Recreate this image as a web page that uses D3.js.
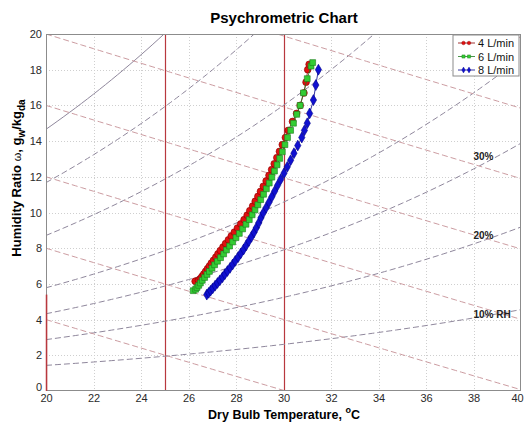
<!DOCTYPE html>
<html>
<head>
<meta charset="utf-8">
<script src="https://cdn.jsdelivr.net/npm/d3@7"></script>
<style>
body { margin: 0; background: #fff; font-family: "Liberation Sans", Arial, sans-serif; }
</style>
</head>
<body>
<script>
// axis ticks
var xTicks = [20, 22, 24, 26, 28, 30, 32, 34, 36, 38, 40];
var yTicks = [0, 2, 4, 6, 8, 10, 12, 14, 16, 18, 20];

// psychrometric guide lines
var rhLevels = [0.1, 0.2, 0.3, 0.4, 0.6, 0.8];       // dashed RH curves
var wetBulbStarts = [4, 8, 12, 16, 20, 24, 28];        // w (g/kg) at 20 C for constant enthalpy lines
var dryBulbTemps = [20, 25, 30];
var dryBulbTops = [5.4, 20, 20];
var rhLabels = ["30%", "20%", "10% RH"];
var rhLabelX = [38, 38, 38];
var rhLabelY = [12.95, 8.5, 4.1];

// series
var seriesNames = ["4 L/min", "6 L/min", "8 L/min"];

var t4 = [26.28, 26.42, 26.5, 26.57, 26.64, 26.72, 26.8, 26.88, 26.96, 27.05, 27.15, 27.24, 27.34, 27.45, 27.56,
  27.68, 27.8, 27.93, 28.06, 28.2, 28.34, 28.47, 28.58, 28.7, 28.81, 28.92, 29.03, 29.15, 29.27, 29.39, 29.5,
  29.61, 29.72, 29.83, 29.95, 30.08, 30.2, 30.38, 30.55, 30.7, 30.86, 30.95, 31.02, 31.08];
var w4 = [6.15, 6.2, 6.3, 6.42, 6.55, 6.7, 6.85, 7.0, 7.16, 7.32, 7.5, 7.68, 7.87, 8.06, 8.26,
  8.47, 8.68, 8.9, 9.13, 9.36, 9.6, 9.85, 10.1, 10.36, 10.63, 10.9, 11.18, 11.47, 11.77, 12.08, 12.4,
  12.73, 13.07, 13.42, 13.8, 14.2, 14.6, 15.1, 15.55, 16.0, 16.7, 17.3, 18.0, 18.3];

var t6 = [26.2, 26.3, 26.36, 26.43, 26.5, 26.58, 26.68, 26.78, 26.88, 26.99, 27.1, 27.22, 27.35, 27.48, 27.6,
  27.73, 27.86, 28.0, 28.14, 28.28, 28.42, 28.56, 28.68, 28.8, 28.92, 29.04, 29.16, 29.28, 29.4, 29.51, 29.62,
  29.73, 29.84, 29.95, 30.06, 30.17, 30.3, 30.42, 30.56, 30.7, 30.84, 31.0, 31.16, 31.23];
var w6 = [5.62, 5.7, 5.8, 5.92, 6.05, 6.2, 6.36, 6.53, 6.7, 6.88, 7.07, 7.27, 7.47, 7.68, 7.9,
  8.12, 8.35, 8.59, 8.83, 9.08, 9.34, 9.6, 9.87, 10.15, 10.43, 10.72, 11.02, 11.33, 11.65, 11.98, 12.32,
  12.67, 13.03, 13.4, 13.8, 14.2, 14.6, 15.0, 15.5, 16.0, 16.7, 17.5, 18.2, 18.4];

var t8 = [26.77, 26.85, 26.93, 27.02, 27.12, 27.22, 27.32, 27.43, 27.53, 27.64, 27.75, 27.86, 27.97, 28.09, 28.2,
  28.32, 28.43, 28.54, 28.65, 28.76, 28.86, 28.96, 29.05, 29.15, 29.27, 29.39, 29.51, 29.63, 29.75, 29.88, 30.02,
  30.16, 30.3, 30.44, 30.6, 30.77, 30.88, 31.0, 31.1, 31.26, 31.36, 31.47];
var w8 = [5.4, 5.5, 5.62, 5.75, 5.9, 6.05, 6.2, 6.37, 6.54, 6.72, 6.9, 7.09, 7.29, 7.5, 7.71,
  7.93, 8.16, 8.4, 8.64, 8.89, 9.15, 9.42, 9.7, 9.98, 10.27, 10.57, 10.88, 11.2, 11.52, 11.85, 12.2,
  12.56, 12.93, 13.32, 13.75, 14.2, 14.6, 15.0, 15.55, 16.3, 17.14, 18.0];

var W = 526, H = 423;
var m = {left: 46, top: 34, right: 5, bottom: 32};
var pw = W - m.left - m.right, ph = H - m.top - m.bottom;

var x = d3.scaleLinear().domain([20, 40]).range([0, pw]);
var y = d3.scaleLinear().domain([0, 20]).range([ph, 0]);

var svg = d3.select("body").append("svg").attr("width", W).attr("height", H);
svg.append("defs").append("clipPath").attr("id", "clip")
  .append("rect").attr("width", pw).attr("height", ph);

var g = svg.append("g").attr("transform", "translate(" + m.left + "," + m.top + ")");

// grid
g.selectAll(".gx").data(xTicks.slice(1, -1)).enter().append("line")
  .attr("x1", function(d) { return Math.round(x(d)) + 0.5; }).attr("x2", function(d) { return Math.round(x(d)) + 0.5; })
  .attr("y1", 0).attr("y2", ph)
  .attr("stroke", "#cfcfcf").attr("stroke-dasharray", "1,2");
g.selectAll(".gy").data(yTicks.slice(1, -1)).enter().append("line")
  .attr("y1", function(d) { return Math.round(y(d)) + 0.5; }).attr("y2", function(d) { return Math.round(y(d)) + 0.5; })
  .attr("x1", 0).attr("x2", pw)
  .attr("stroke", "#cfcfcf").attr("stroke-dasharray", "1,2");

// psychrometrics
function psat(T) { return 0.61094 * Math.exp(17.625 * T / (T + 243.04)); }
function wRH(T, rh) { var p = rh * psat(T); return 622 * p / (101.325 - p); }
var temps = d3.range(20, 40.01, 0.25);
var guide = g.append("g").attr("clip-path", "url(#clip)");
var line = d3.line().x(function(d) { return x(d[0]); }).y(function(d) { return y(d[1]); });

dryBulbTemps.forEach(function(T, i) {
  guide.append("line")
    .attr("x1", Math.round(x(T)) + 0.5).attr("x2", Math.round(x(T)) + 0.5)
    .attr("y1", y(0)).attr("y2", y(dryBulbTops[i]))
    .attr("stroke", "#b8383e").attr("stroke-width", 1.2);
});

rhLevels.forEach(function(rh) {
  guide.append("path")
    .attr("d", line(temps.map(function(T) { return [T, wRH(T, rh)]; })))
    .attr("fill", "none").attr("stroke", "#8f879c").attr("stroke-width", 1)
    .attr("stroke-dasharray", "6,3");
});
guide.append("path")
  .attr("d", line(temps.map(function(T) { return [T, wRH(T, 1)]; })))
  .attr("fill", "none").attr("stroke", "#8f879c").attr("stroke-width", 1);

wetBulbStarts.forEach(function(w0) {
  var h = 1.006 * 20 + w0 / 1000 * (2501 + 1.86 * 20);
  guide.append("path")
    .attr("d", line(temps.map(function(T) { return [T, (h - 1.006 * T) / (2501 + 1.86 * T) * 1000]; })))
    .attr("fill", "none").attr("stroke", "#cc9ca1").attr("stroke-width", 1)
    .attr("stroke-dasharray", "6,3");
});

// axes
var xAxis = d3.axisBottom(x).tickValues(xTicks).tickSize(0).tickPadding(3);
var yAxis = d3.axisLeft(y).tickValues(yTicks).tickSize(0).tickPadding(4);
var gx = g.append("g").attr("transform", "translate(0," + ph + ")").call(xAxis);
var gy = g.append("g").call(yAxis);
[gx, gy].forEach(function(a) {
  a.select(".domain").remove();
  a.selectAll("text").attr("font-size", 11).attr("fill", "#2a2a2a")
    .attr("font-family", "'Liberation Sans', Arial, sans-serif");
});
gx.selectAll("text").filter(function(d) { return d === 40; }).attr("dx", -4);
gy.selectAll("text").filter(function(d) { return d === 0; }).attr("dy", "-0.05em");
g.append("rect").attr("x", 0.5).attr("y", 0.5).attr("width", pw - 1).attr("height", ph - 1)
  .attr("fill", "none").attr("stroke", "#8c8c8c").attr("stroke-width", 1);
// red dry bulb line on top of the left frame
g.append("line").attr("x1", 0.5).attr("x2", 0.5).attr("y1", y(0)).attr("y2", y(dryBulbTops[0]))
  .attr("stroke", "#b8383e").attr("stroke-width", 1.5);

// RH labels
g.selectAll(".rhl").data(rhLabels).enter().append("text")
  .attr("x", function(d, i) { return x(rhLabelX[i]); })
  .attr("y", function(d, i) { return y(rhLabelY[i]); })
  .attr("font-size", 10).attr("font-weight", "bold").attr("fill", "#222")
  .text(function(d) { return d; });

// series
var series = [
  {t: t4, w: w4, fill: "#e01010", stroke: "#8a0000", shape: d3.symbolCircle, size: 36},
  {t: t6, w: w6, fill: "#33cc33", stroke: "#1d7a1d", shape: d3.symbolSquare, size: 34},
  {t: t8, w: w8, fill: "#1010d0", stroke: "#00008a", shape: d3.symbolDiamond, size: 34}
];
var sym = d3.symbol();
series.forEach(function(s) {
  var pts = s.t.map(function(T, i) { return [T, s.w[i]]; });
  g.append("path").attr("d", line(pts))
    .attr("fill", "none").attr("stroke", s.stroke).attr("stroke-width", 0.8);
  g.selectAll(null).data(pts).enter().append("path")
    .attr("transform", function(d) { return "translate(" + x(d[0]) + "," + y(d[1]) + ")"; })
    .attr("d", sym.type(s.shape).size(s.size)())
    .attr("fill", s.fill).attr("stroke", s.stroke).attr("stroke-width", 0.6);
});

// legend
var lg = svg.append("g").attr("transform", "translate(453,35)");
lg.append("rect").attr("width", 66).attr("height", 41)
  .attr("fill", "#fff").attr("stroke", "#8c8c8c");
seriesNames.forEach(function(name, i) {
  var s = series[i];
  var ly = 8 + i * 13.5;
  lg.append("line").attr("x1", 5).attr("x2", 22).attr("y1", ly).attr("y2", ly)
    .attr("stroke", s.stroke).attr("stroke-width", 0.8);
  [10.5, 16].forEach(function(px) {
    lg.append("path").attr("transform", "translate(" + px + "," + ly + ")")
      .attr("d", d3.symbol().type(s.shape).size(10)())
      .attr("fill", s.fill).attr("stroke", s.stroke).attr("stroke-width", 0.4);
  });
  lg.append("text").attr("x", 25).attr("y", ly + 4).attr("font-size", 11).attr("fill", "#111")
    .text(name);
});

// titles
svg.append("text").attr("x", 284).attr("y", 23).attr("text-anchor", "middle")
  .attr("font-size", 15).attr("font-weight", "bold").text("Psychrometric Chart");

var xl = svg.append("text").attr("x", 284).attr("y", 419).attr("text-anchor", "middle")
  .attr("font-size", 12.5).attr("font-weight", "bold");
xl.append("tspan").text("Dry Bulb Temperature, ");
xl.append("tspan").attr("font-size", 9).attr("dy", -6).text("o");
xl.append("tspan").attr("dy", 6).text("C");

var yl = svg.append("text").attr("transform", "translate(21,178) rotate(-90)")
  .attr("text-anchor", "middle").attr("font-size", 13).attr("font-weight", "bold");
yl.append("tspan").text("Humidity Ratio ");
yl.append("tspan").attr("font-weight", "normal").attr("font-size", 11).text("ω");
yl.append("tspan").text(", g");
yl.append("tspan").attr("font-size", 10).attr("dy", 4).text("w");
yl.append("tspan").attr("dy", -4).text("/kg");
yl.append("tspan").attr("font-size", 10).attr("dy", 4).text("da");
</script>
</body>
</html>
